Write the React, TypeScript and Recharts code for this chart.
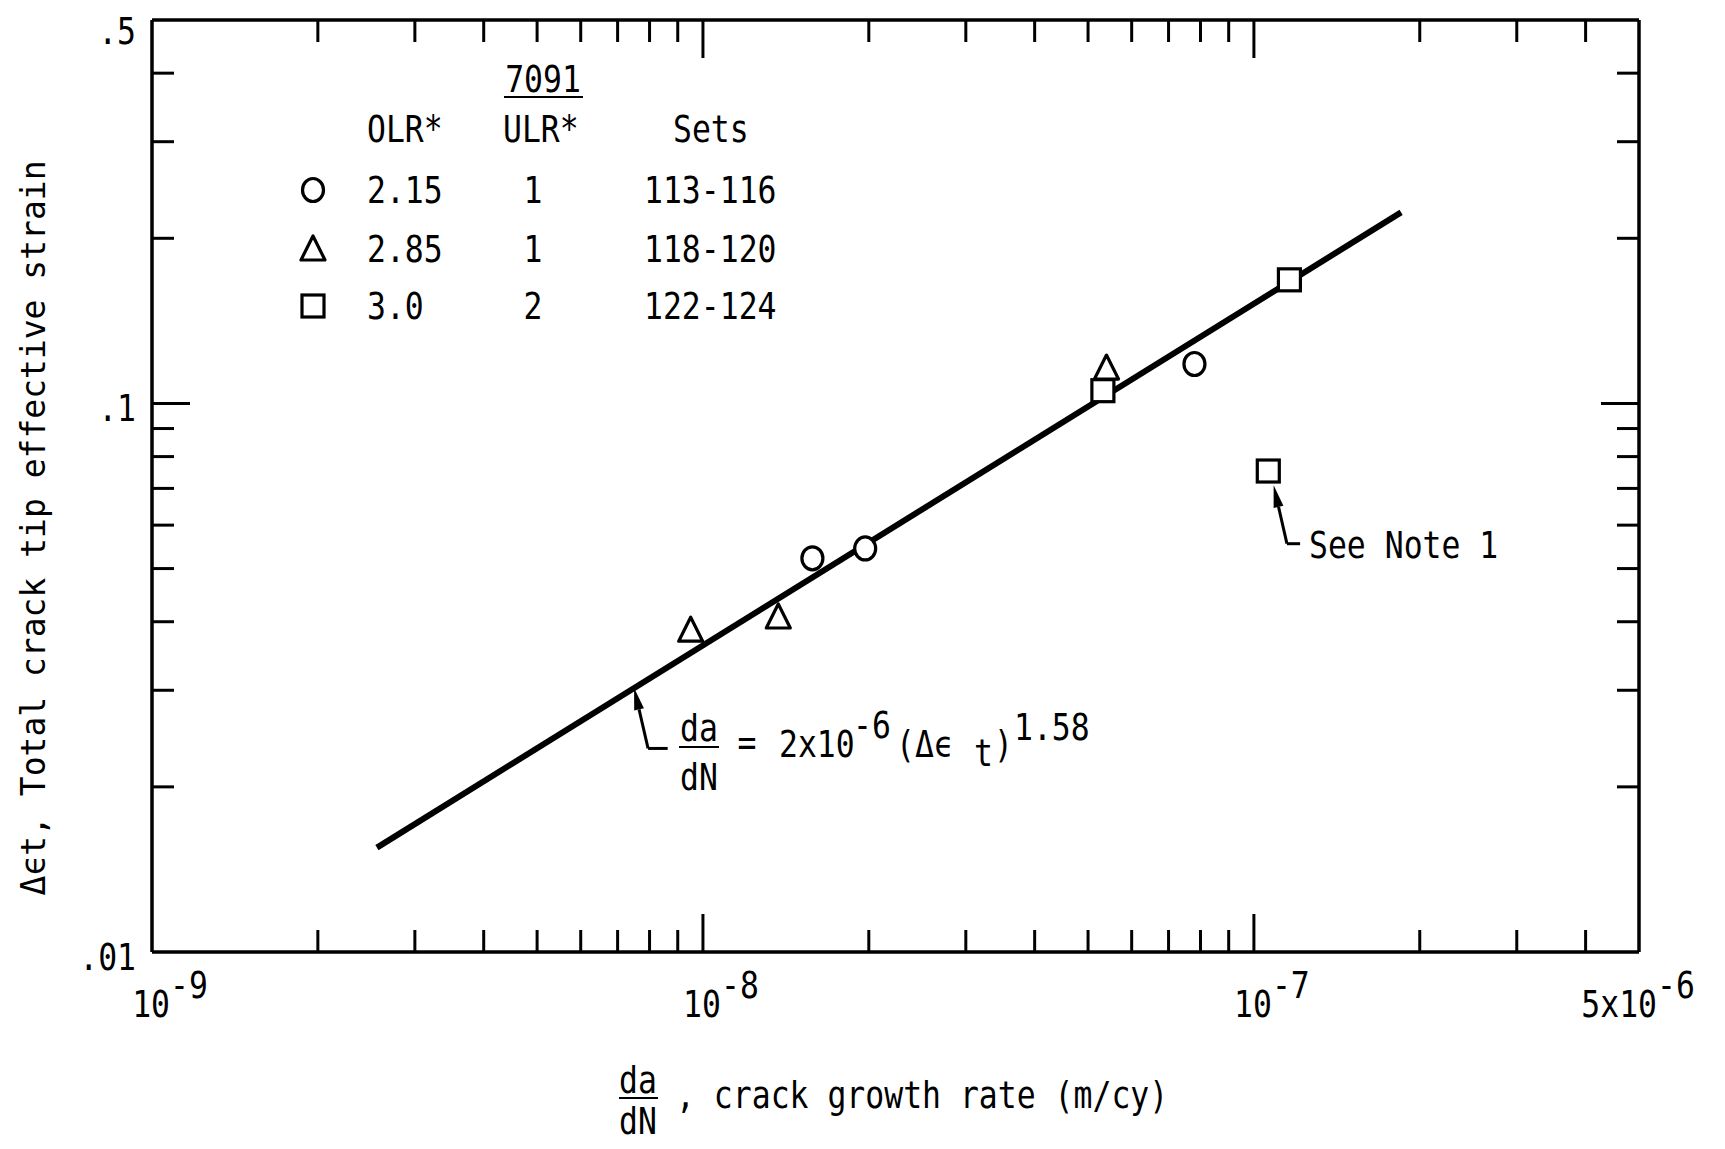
import React from "react";
import { ReferenceLine, Scatter, ScatterChart, XAxis, YAxis } from "recharts";

// measured points, 7091 alloy
const circleX = [1.58e-8, 1.97e-8, 7.8e-8];
const circleY = [0.0522, 0.0544, 0.118];
const triangleX = [9.5e-9, 1.37e-8, 5.4e-8];
const triangleY = [0.0386, 0.0408, 0.116];
const squareX = [5.32e-8, 1.16e-7, 1.062e-7];
const squareY = [0.1055, 0.168, 0.0753];

// fitted line da/dN = 2x10^-6 (de_t)^1.58, end points as drawn
const fitX = [2.56e-9, 1.85e-7];
const fitY = [0.0155, 0.223];

// leader arrows: end of leader, corner, arrow tip
const eqArrowX = [8.63e-9, 7.95e-9, 7.5e-9];
const eqArrowY = [0.0235, 0.0235, 0.0303];
const noteArrowX = [1.213e-7, 1.148e-7, 1.086e-7];
const noteArrowY = [0.0555, 0.0555, 0.0709];

const X_DOMAIN = [1e-9, 5e-7];
const Y_DOMAIN = [0.01, 0.5];
const xTicks = [
  1e-9, 2e-9, 3e-9, 4e-9, 5e-9, 6e-9, 7e-9, 8e-9, 9e-9,
  1e-8, 2e-8, 3e-8, 4e-8, 5e-8, 6e-8, 7e-8, 8e-8, 9e-8,
  1e-7, 2e-7, 3e-7, 4e-7, 5e-7,
];
const xMajorTicks = [1e-8, 1e-7];
const xTickLabels: [number, string, string][] = [
  [1e-9, "10", "-9"],
  [1e-8, "10", "-8"],
  [1e-7, "10", "-7"],
  [5e-7, "5x10", "-6"],
];
const yTicks = [0.01, 0.02, 0.03, 0.04, 0.05, 0.06, 0.07, 0.08, 0.09, 0.1, 0.2, 0.3, 0.4, 0.5];
const yMajorTicks = [0.1];
const yTickLabels: [number, string][] = [
  [0.5, ".5"],
  [0.1, ".1"],
  [0.01, ".01"],
];

const legendRows = [
  { mark: "circle", olr: "2.15", ulr: "1", sets: "113-116" },
  { mark: "triangle", olr: "2.85", ulr: "1", sets: "118-120" },
  { mark: "square", olr: "3.0", ulr: "2", sets: "122-124" },
];

const W = 1709;
const H = 1133;
const FONT = "'DejaVu Sans Mono', monospace";
const MAJOR = 38;
const MINOR = 22;

const toPoints = (xs: number[], ys: number[]) => xs.map((x, i) => ({ x, y: ys[i] }));
const near = (a: number, b: number) => Math.abs(a - b) <= Math.abs(b) * 1e-6;
const isIn = (v: number, list: number[]) => list.some((t) => near(v, t));

function NText({ x, y, anchor = "start", size = 37, sx = 0.85, children }: any) {
  return (
    <text
      transform={`translate(${x} ${y}) scale(${sx} 1)`}
      textAnchor={anchor}
      fontSize={size}
      fontFamily={FONT}
      fill="#000"
    >
      {children}
    </text>
  );
}

function BottomTick({ x, y, payload }: any) {
  const v = payload.value;
  const edge = near(v, X_DOMAIN[0]) || near(v, X_DOMAIN[1]);
  const len = isIn(v, xMajorTicks) ? MAJOR : MINOR;
  const lab = xTickLabels.find((l) => near(v, l[0]));
  return (
    <g>
      {!edge && <line x1={x} x2={x} y1={y} y2={y - len} stroke="#000" strokeWidth={3} />}
      {lab && (
        <>
          <NText x={x + 18} y={y + 65} anchor="end">{lab[1]}</NText>
          <NText x={x + 18} y={y + 46}>{lab[2]}</NText>
        </>
      )}
    </g>
  );
}

function TopTick({ x, y, payload }: any) {
  const v = payload.value;
  if (near(v, X_DOMAIN[0]) || near(v, X_DOMAIN[1])) return <g />;
  const len = isIn(v, xMajorTicks) ? MAJOR : MINOR;
  return <line x1={x} x2={x} y1={y} y2={y + len} stroke="#000" strokeWidth={3} />;
}

function LeftTick({ x, y, payload }: any) {
  const v = payload.value;
  const edge = near(v, Y_DOMAIN[0]) || near(v, Y_DOMAIN[1]);
  const len = isIn(v, yMajorTicks) ? MAJOR : MINOR;
  const lab = yTickLabels.find((l) => near(v, l[0]));
  return (
    <g>
      {!edge && <line x1={x} x2={x + len} y1={y} y2={y} stroke="#000" strokeWidth={3} />}
      {lab && <NText x={x - 16} y={Math.max(y + 18, 36)} anchor="end">{lab[1]}</NText>}
    </g>
  );
}

function RightTick({ x, y, payload }: any) {
  const v = payload.value;
  if (near(v, Y_DOMAIN[0]) || near(v, Y_DOMAIN[1])) return <g />;
  const len = isIn(v, yMajorTicks) ? MAJOR : MINOR;
  return <line x1={x} x2={x - len} y1={y} y2={y} stroke="#000" strokeWidth={3} />;
}

const CircleMark = ({ cx, cy }: any) => (
  <ellipse cx={cx} cy={cy} rx={10.5} ry={11.5} fill="#fff" stroke="#000" strokeWidth={3.2} />
);
const TriangleMark = ({ cx, cy }: any) => (
  <polygon
    points={`${cx},${cy - 13} ${cx - 12},${cy + 11} ${cx + 12},${cy + 11}`}
    fill="#fff"
    stroke="#000"
    strokeWidth={3.2}
    strokeLinejoin="round"
  />
);
const SquareMark = ({ cx, cy }: any) => (
  <rect x={cx - 11} y={cy - 11} width={22} height={22} fill="#fff" stroke="#000" strokeWidth={3.2} />
);
const NoMark = () => <g />;

function ArrowShape({ x1, y1, x2, y2 }: any) {
  const ang = Math.atan2(y2 - y1, x2 - x1);
  const L = 22;
  const hw = 5;
  const bx = x2 - L * Math.cos(ang);
  const by = y2 - L * Math.sin(ang);
  const px = -Math.sin(ang) * hw;
  const py = Math.cos(ang) * hw;
  return (
    <g>
      <line x1={x1} y1={y1} x2={bx} y2={by} stroke="#000" strokeWidth={3} />
      <polygon points={`${x2},${y2} ${bx + px},${by + py} ${bx - px},${by - py}`} fill="#000" />
    </g>
  );
}

function LegendMark({ kind, cx, cy }: any) {
  if (kind === "circle") return <CircleMark cx={cx} cy={cy} />;
  if (kind === "triangle") return <TriangleMark cx={cx} cy={cy} />;
  return <SquareMark cx={cx} cy={cy} />;
}

function Overlay() {
  const rowY = [195, 254, 311];
  return (
    <svg
      width={W}
      height={H}
      style={{ position: "absolute", left: 0, top: 0, overflow: "visible", pointerEvents: "none" }}
    >
      {/* legend table */}
      <NText x={535} y={84} anchor="middle">7091</NText>
      <line x1={496} x2={575} y1={89} y2={89} stroke="#000" strokeWidth={2} />
      <NText x={359} y={134}>OLR*</NText>
      <NText x={495} y={134}>ULR*</NText>
      <NText x={665} y={134}>Sets</NText>
      {legendRows.map((r, i) => (
        <g key={r.sets}>
          <LegendMark kind={r.mark} cx={305} cy={rowY[i] - 13} />
          <NText x={359} y={rowY[i]}>{r.olr}</NText>
          <NText x={525} y={rowY[i]} anchor="middle">{r.ulr}</NText>
          <NText x={636} y={rowY[i]}>{r.sets}</NText>
        </g>
      ))}

      {/* equation of the fitted line */}
      <NText x={691} y={733} anchor="middle">da</NText>
      <line x1={671} x2={711} y1={739} y2={739} stroke="#000" strokeWidth={2} />
      <NText x={691} y={782} anchor="middle">dN</NText>
      <NText x={739} y={747} anchor="middle">=</NText>
      <NText x={771} y={749}>2x10</NText>
      <NText x={845} y={730}>-6</NText>
      <NText x={888} y={749}>(Δϵ</NText>
      <NText x={966} y={758}>t</NText>
      <NText x={986} y={749}>)</NText>
      <NText x={1006} y={732}>1.58</NText>

      <NText x={1301} y={550}>See Note 1</NText>

      {/* axis titles */}
      <text
        transform="translate(25 520) rotate(-90)"
        textAnchor="middle"
        dominantBaseline="central"
        fontSize={33}
        fontFamily={FONT}
        fill="#000"
      >
        Δϵt, Total crack tip effective strain
      </text>
      <NText x={630} y={1085} anchor="middle">da</NText>
      <line x1={611} x2={650} y1={1090} y2={1090} stroke="#000" strokeWidth={2} />
      <NText x={630} y={1126} anchor="middle">dN</NText>
      <NText x={668} y={1100}>, crack growth rate (m/cy)</NText>
    </svg>
  );
}

export default function App() {
  const axisLine = { stroke: "#000", strokeWidth: 3.5 };
  const seg = (xs: number[], ys: number[], a: number, b: number) => [
    { x: xs[a], y: ys[a] },
    { x: xs[b], y: ys[b] },
  ];
  return (
    <div style={{ position: "relative", width: W, height: H }}>
      <ScatterChart
        width={W}
        height={H}
        margin={{ top: 11, right: 77, bottom: 188, left: 143 }}
        style={{ overflow: "visible" }}
      >
        <XAxis
          xAxisId="bottom"
          orientation="bottom"
          dataKey="x"
          type="number"
          scale="log"
          domain={X_DOMAIN}
          allowDataOverflow
          ticks={xTicks}
          interval={0}
          tick={BottomTick}
          tickLine={false}
          tickSize={0}
          tickMargin={0}
          axisLine={axisLine}
          height={1}
        />
        <XAxis
          xAxisId="top"
          orientation="top"
          dataKey="x"
          type="number"
          scale="log"
          domain={X_DOMAIN}
          allowDataOverflow
          ticks={xTicks}
          interval={0}
          tick={TopTick}
          tickLine={false}
          tickSize={0}
          tickMargin={0}
          axisLine={axisLine}
          height={1}
        />
        <YAxis
          yAxisId="left"
          orientation="left"
          dataKey="y"
          type="number"
          scale="log"
          domain={Y_DOMAIN}
          allowDataOverflow
          ticks={yTicks}
          interval={0}
          tick={LeftTick}
          tickLine={false}
          tickSize={0}
          tickMargin={0}
          axisLine={axisLine}
          width={1}
        />
        <YAxis
          yAxisId="right"
          orientation="right"
          dataKey="y"
          type="number"
          scale="log"
          domain={Y_DOMAIN}
          allowDataOverflow
          ticks={yTicks}
          interval={0}
          tick={RightTick}
          tickLine={false}
          tickSize={0}
          tickMargin={0}
          axisLine={axisLine}
          width={1}
        />

        <Scatter
          name="fit"
          xAxisId="bottom"
          yAxisId="left"
          data={toPoints(fitX, fitY)}
          line={{ stroke: "#000", strokeWidth: 6 }}
          shape={NoMark}
          isAnimationActive={false}
        />
        <Scatter name="2.15" xAxisId="bottom" yAxisId="left" data={toPoints(circleX, circleY)} shape={CircleMark} isAnimationActive={false} />
        <Scatter name="2.85" xAxisId="bottom" yAxisId="left" data={toPoints(triangleX, triangleY)} shape={TriangleMark} isAnimationActive={false} />
        <Scatter name="3.0" xAxisId="bottom" yAxisId="left" data={toPoints(squareX, squareY)} shape={SquareMark} isAnimationActive={false} />
        {/* invisible series so the top and right axes carry data */}
        <Scatter xAxisId="top" yAxisId="right" data={toPoints(fitX, fitY)} shape={NoMark} isAnimationActive={false} />

        <ReferenceLine xAxisId="bottom" yAxisId="left" segment={seg(eqArrowX, eqArrowY, 0, 1)} stroke="#000" strokeWidth={3} />
        <ReferenceLine xAxisId="bottom" yAxisId="left" segment={seg(eqArrowX, eqArrowY, 1, 2)} shape={ArrowShape} />
        <ReferenceLine xAxisId="bottom" yAxisId="left" segment={seg(noteArrowX, noteArrowY, 0, 1)} stroke="#000" strokeWidth={3} />
        <ReferenceLine xAxisId="bottom" yAxisId="left" segment={seg(noteArrowX, noteArrowY, 1, 2)} shape={ArrowShape} />
      </ScatterChart>
      <Overlay />
    </div>
  );
}
